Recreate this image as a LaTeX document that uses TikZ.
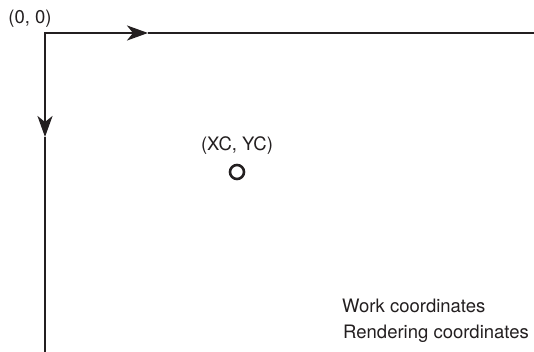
\documentclass[tikz,border=0pt]{standalone}
\usepackage{fontspec}
\setmainfont{TeX Gyre Heros}
\usepackage{tikz}
\usetikzlibrary{positioning, arrows.meta, calc}
\definecolor{axisgray}{HTML}{231F20}

\tikzset{
  axis/.style={draw=axisgray, line width=2.4pt},
  axisarrow/.style={axis, -{Stealth[length=21pt, width=15pt, inset=6pt]}},
  label/.style={font=\fontsize{18.5}{20}\selectfont, text=axisgray, inner sep=0pt}
}

\begin{document}
\begin{tikzpicture}[x=1pt, y=-1pt]
    \useasboundingbox (0,0) rectangle (534,352);
    % axes of the work coordinates
    \coordinate (origin) at (45,33);
    \coordinate (xtip) at (148,33);
    \coordinate (xend) at (534,33);
    \coordinate (ytip) at (45,137);
    \coordinate (yend) at (45,352);
    \draw[axisarrow] (origin) -- (xtip);
    \draw[axis] (xtip) -- (xend);
    \draw[axisarrow] (origin) -- (ytip);
    \draw[axis] (ytip) -- (yend);
    \draw[axis, line cap=rect] ($(origin)+(10,0)$) -- (origin) -- ($(origin)+(0,10)$);
    \node[label] (originlabel) at (30,19) {(0, 0)};

    % centre point
    \node[draw=axisgray, line width=2.6pt, circle, minimum size=14pt, inner sep=0pt] (centre) at (237,172) {};
    \node[label, above=9pt of centre] (centrelabel) {(XC, YC)};

    \node[label, anchor=base west] (work) at (342,312) {Work coordinates};
    \node[label, anchor=base west] (render) at (343,338) {Rendering coordinates};
  \end{tikzpicture}
\end{document}
